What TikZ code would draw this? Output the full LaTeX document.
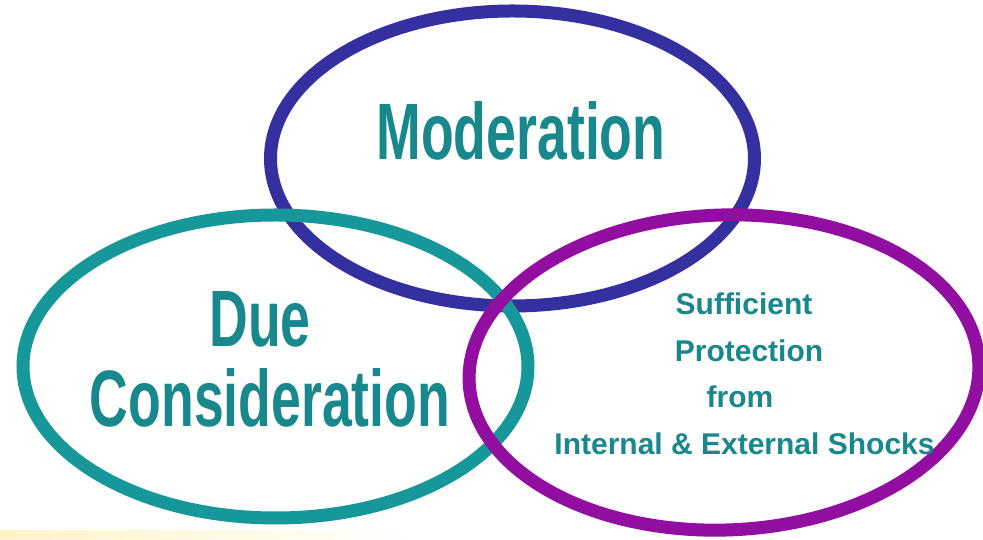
\documentclass[tikz,border=0pt]{standalone}
\usepackage{fontspec}
\setmainfont{Liberation Sans}
\usetikzlibrary{shapes.geometric}
\definecolor{navyring}{RGB}{52,48,160}
\definecolor{tealring}{RGB}{22,152,154}
\definecolor{purplering}{RGB}{145,14,160}
\definecolor{tealtext}{RGB}{24,136,141}
\definecolor{paleyellow}{RGB}{255,243,200}
\begin{document}
\begin{tikzpicture}[x=1pt,y=1pt,
  ring/.style={line width=13pt},
  bigtext/.style={text=tealtext,inner sep=0pt,anchor=base,font=\fontsize{80}{80}\selectfont\bfseries},
  smalltext/.style={text=tealtext,inner sep=0pt,anchor=base,font=\fontsize{30}{30}\selectfont\bfseries}]
\useasboundingbox (0,0) rectangle (983,540);
\fill[white] (0,0) rectangle (983,540);
\shade[left color=paleyellow,right color=white] (0,0) rectangle (420,9);
% rings
\draw[ring,navyring] (512.5,381.5) ellipse [x radius=242, y radius=147.5];
\draw[ring,tealring] (275.5,173.5) ellipse [x radius=252.5, y radius=151.5];
\draw[ring,purplering,rotate around={2:(724,167.5)}] (724,167.5) ellipse [x radius=255, y radius=157.5];
% labels
\node[bigtext] (moderation) at (521,380) {\scalebox{0.67}[1]{Moderation}};
\node[bigtext] (due) at (260,193) {\scalebox{0.67}[1]{Due}};
\node[bigtext] (consideration) at (270,113) {\scalebox{0.67}[1]{Consideration}};
\node[smalltext] (sufficient) at (744,225) {Sufficient};
\node[smalltext] (protection) at (749,178) {Protection};
\node[smalltext] (from) at (740,132) {from};
\node[smalltext] (shocks) at (744.5,85) {Internal \& External Shocks};
\end{tikzpicture}
\end{document}
